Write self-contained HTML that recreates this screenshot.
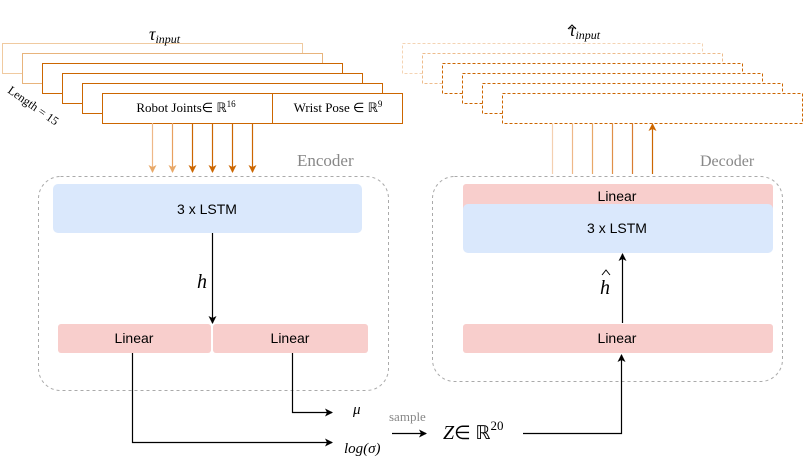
<!DOCTYPE html><html><head><style>body{margin:0;background:#fff}svg text{font-family:"Liberation Serif",serif}</style></head><body>
<svg width="803" height="464" viewBox="0 0 803 464" xmlns="http://www.w3.org/2000/svg">
<defs>
<marker id="a" markerWidth="8" markerHeight="8" refX="7" refY="4" orient="auto" markerUnits="userSpaceOnUse"><path d="M0,0 L8,4 L0,8 L2,4z" fill="#000"/></marker>
<marker id="o" markerWidth="8" markerHeight="8" refX="7" refY="4" orient="auto" markerUnits="userSpaceOnUse"><path d="M0,0 L8,4 L0,8 L2,4z" fill="#cc6600"/></marker>
<marker id="ol" markerWidth="8" markerHeight="8" refX="7" refY="4" orient="auto" markerUnits="userSpaceOnUse"><path d="M0,0 L8,4 L0,8 L2,4z" fill="#e8a868"/></marker>
</defs>
<g fill="#fff" stroke-width="1">
<rect x="2.5" y="43.5" width="300" height="30" stroke="#f0caa0"/>
<rect x="22.5" y="53.5" width="300" height="30" stroke="#e8b47c"/>
<rect x="42.5" y="63.5" width="300" height="30" stroke="#cc6600"/>
<rect x="62.5" y="73.5" width="300" height="30" stroke="#cc6600"/>
<rect x="82.5" y="83.5" width="300" height="30" stroke="#cc6600"/>
<rect x="102.5" y="93.5" width="300" height="30" stroke="#cc6600"/>
<line x1="272.5" y1="93" x2="272.5" y2="123" stroke="#cc6600"/>
</g>
<g fill="#fff" stroke-dasharray="3,2">
<rect x="402.5" y="43.5" width="300" height="30" stroke="#f4d4b4"/>
<rect x="422.5" y="53.5" width="300" height="30" stroke="#eebc8c"/>
<rect x="442.5" y="63.5" width="300" height="30" stroke="#cc6600"/>
<rect x="462.5" y="73.5" width="300" height="30" stroke="#cc6600"/>
<rect x="482.5" y="83.5" width="300" height="30" stroke="#cc6600"/>
<rect x="502.5" y="93.5" width="300" height="30" stroke="#cc6600"/>
</g>
<text x="186" y="112" font-size="13" text-anchor="middle">Robot Joints∈ ℝ<tspan dy="-5" font-size="9">16</tspan></text>
<text x="338" y="112" font-size="13" text-anchor="middle">Wrist Pose ∈ ℝ<tspan dy="-5" font-size="9">9</tspan></text>
<text x="149" y="40" font-size="18" font-style="italic">τ<tspan font-size="12" dy="3">input</tspan></text>
<text x="569" y="36" font-size="18" font-style="italic">τ<tspan font-size="12" dy="3">input</tspan></text>
<path d="M568,29 L572,25 L576,29" fill="none" stroke="#000" stroke-width="1"/>
<text x="7" y="92" font-size="12" transform="rotate(35 7 92)">Length = 15</text>
<g stroke-width="1.2">
<line x1="152.5" y1="123" x2="152.5" y2="172" stroke="#eeb888" marker-end="url(#ol)"/>
<line x1="172.5" y1="123" x2="172.5" y2="172" stroke="#e8a060" marker-end="url(#ol)"/>
<line x1="192.5" y1="123" x2="192.5" y2="172" stroke="#cc6600" marker-end="url(#o)"/>
<line x1="212.5" y1="123" x2="212.5" y2="172" stroke="#cc6600" marker-end="url(#o)"/>
<line x1="232.5" y1="123" x2="232.5" y2="172" stroke="#cc6600" marker-end="url(#o)"/>
<line x1="252.5" y1="123" x2="252.5" y2="172" stroke="#cc6600" marker-end="url(#o)"/>
<line x1="552.5" y1="123" x2="552.5" y2="174" stroke="#f4d0b0"/>
<line x1="572.5" y1="123" x2="572.5" y2="174" stroke="#eeb888"/>
<line x1="592.5" y1="123" x2="592.5" y2="174" stroke="#e8a868"/>
<line x1="612.5" y1="123" x2="612.5" y2="174" stroke="#e09048"/>
<line x1="632.5" y1="123" x2="632.5" y2="174" stroke="#d87c30"/>
<line x1="652.5" y1="174" x2="652.5" y2="124" stroke="#cc6600" marker-end="url(#o)"/>
</g>
<text x="297" y="166" font-size="17" fill="#888">Encoder</text>
<text x="700" y="166" font-size="16" fill="#888">Decoder</text>
<rect x="38.5" y="176.5" width="350" height="214" rx="22" fill="none" stroke="#aaa" stroke-dasharray="3,3"/>
<rect x="432.5" y="176.5" width="350" height="205" rx="22" fill="none" stroke="#aaa" stroke-dasharray="3,3"/>
<g font-size="14" text-anchor="middle">
<rect x="53" y="184" width="309" height="49" rx="5" fill="#dae8fc"/>
<text x="207" y="214" style="font-family:'Liberation Sans',sans-serif">3 x LSTM</text>
<rect x="58" y="324" width="153" height="29" rx="3" fill="#f8cecc"/>
<text x="134" y="343" style="font-family:'Liberation Sans',sans-serif">Linear</text>
<rect x="213" y="324" width="155" height="29" rx="3" fill="#f8cecc"/>
<text x="290" y="343" style="font-family:'Liberation Sans',sans-serif">Linear</text>
<rect x="463" y="184" width="310" height="27" rx="3" fill="#f8cecc"/>
<text x="617" y="201" style="font-family:'Liberation Sans',sans-serif">Linear</text>
<rect x="463" y="204" width="310" height="49" rx="5" fill="#dae8fc"/>
<text x="617" y="233" style="font-family:'Liberation Sans',sans-serif">3 x LSTM</text>
<rect x="463" y="324" width="310" height="29" rx="3" fill="#f8cecc"/>
<text x="617" y="343" style="font-family:'Liberation Sans',sans-serif">Linear</text>
</g>
<g stroke="#000" stroke-width="1.2" fill="none">
<line x1="212.5" y1="233" x2="212.5" y2="323" marker-end="url(#a)"/>
<line x1="622.5" y1="323" x2="622.5" y2="254" marker-end="url(#a)"/>
<polyline points="132.5,353 132.5,442.5 332,442.5" marker-end="url(#a)"/>
<polyline points="292.5,353 292.5,412.5 332,412.5" marker-end="url(#a)"/>
<line x1="392" y1="433.5" x2="426" y2="433.5" marker-end="url(#a)"/>
<polyline points="523,433.5 621.5,433.5 621.5,355" marker-end="url(#a)"/>
</g>
<text x="197" y="288" font-size="20" font-style="italic">h</text>
<text x="600" y="294" font-size="20" font-style="italic">h</text>
<path d="M602,275 L606,270 L610,275" fill="none" stroke="#000" stroke-width="1"/>
<text x="353" y="414" font-size="15" font-style="italic">μ</text>
<text x="344" y="453" font-size="15" font-style="italic">log(σ)</text>
<text x="389" y="421" font-size="13" fill="#888">sample</text>
<text x="443" y="439" font-size="20" font-style="italic">Z<tspan font-style="normal" font-size="19">∈ ℝ</tspan><tspan dy="-9" font-size="13" font-style="normal">20</tspan></text>
</svg>
</body></html>
